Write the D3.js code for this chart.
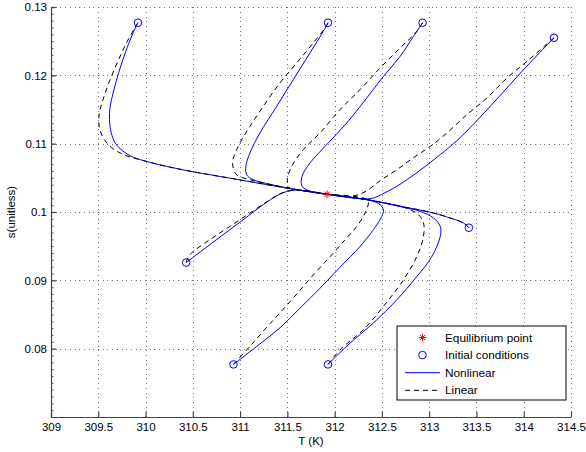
<!DOCTYPE html>
<html>
<head>
<meta charset="utf-8">
<script src="https://cdn.jsdelivr.net/npm/d3@7"></script>
<style>
  body { margin: 0; background: #fff; }
  svg text { font-family: "Liberation Sans", Arial, Helvetica, sans-serif; fill: #000; }
  .grid line { stroke: #777; stroke-width: 1; stroke-dasharray: 1 3.7; shape-rendering: crispEdges; }
  .grid path { display: none; }
  .axis path, .axis line { stroke: #444; stroke-width: 1.2; }
  .minor line { stroke: #555; stroke-width: 1; }
  .minor path { display: none; }
</style>
</head>
<body>
<svg id="chart" width="586" height="452"></svg>
<script>
// values (T in K, s unitless)
const xTicks = [309, 309.5, 310, 310.5, 311, 311.5, 312, 312.5, 313, 313.5, 314, 314.5];
const yTicks = [0.08, 0.09, 0.1, 0.11, 0.12, 0.13];

const equilibrium = [311.92, 0.1026];
const initT = [309.92, 311.93, 312.93, 314.32, 313.42, 310.43, 310.93, 311.93];
const initS = [0.1277, 0.1277, 0.1277, 0.1255, 0.0977, 0.0926, 0.0777, 0.0777];

// intermediate points of each trajectory, start and end (equilibrium) are added below
const nonlinA = [[309.868, 0.12621], [309.790, 0.12347], [309.716, 0.12040], [309.658, 0.11747],
  [309.624, 0.11527], [309.619, 0.11351], [309.637, 0.11161], [309.684, 0.11000], [309.762, 0.10890],
  [309.868, 0.10802], [310.010, 0.10741], [310.221, 0.10668], [310.574, 0.10571], [310.924, 0.10488],
  [311.284, 0.10400], [311.633, 0.10319]];
const linearA = [[309.886, 0.12694], [309.798, 0.12474], [309.706, 0.12201], [309.621, 0.11922],
  [309.550, 0.11644], [309.510, 0.11439], [309.510, 0.11249], [309.557, 0.11073], [309.642, 0.10941],
  [309.769, 0.10839], [309.939, 0.10766], [310.221, 0.10668], [310.574, 0.10571], [310.924, 0.10488],
  [311.284, 0.10400], [311.633, 0.10319]];

const nonlinB = [[311.880, 0.12644], [311.739, 0.12328], [311.563, 0.11937], [311.387, 0.11546],
  [311.210, 0.11157], [311.104, 0.10864], [311.061, 0.10668], [311.069, 0.10546], [311.139, 0.10473],
  [311.281, 0.10417], [311.633, 0.10319]];
const linearB = [[311.898, 0.12694], [311.774, 0.12474], [311.599, 0.12182], [311.422, 0.11889],
  [311.245, 0.11546], [311.104, 0.11253], [310.980, 0.10960], [310.921, 0.10717], [310.963, 0.10546],
  [311.104, 0.10473], [311.281, 0.10414], [311.633, 0.10319]];

const nonlinC = [[312.834, 0.12571], [312.693, 0.12278], [312.516, 0.11985], [312.340, 0.11669],
  [312.128, 0.11303], [311.930, 0.11007], [311.739, 0.10717], [311.655, 0.10521], [311.655, 0.10378],
  [311.739, 0.10305]];
const linearC = [[312.870, 0.12644], [312.693, 0.12401], [312.481, 0.12108], [312.269, 0.11791],
  [312.057, 0.11498], [311.845, 0.11157], [311.668, 0.10912], [311.546, 0.10668], [311.499, 0.10473],
  [311.528, 0.10348], [311.633, 0.10319]];

const nonlinD = [[314.144, 0.12296], [313.964, 0.12032], [313.720, 0.11659], [313.505, 0.11337],
  [313.293, 0.11044], [313.117, 0.10839], [312.905, 0.10612], [312.693, 0.10407], [312.534, 0.10283],
  [312.375, 0.10195]];
const linearD = [[314.035, 0.12205], [313.823, 0.11962], [313.611, 0.11669], [313.399, 0.11425],
  [313.188, 0.11157], [313.011, 0.10960], [312.834, 0.10795], [312.658, 0.10619], [312.481, 0.10458],
  [312.322, 0.10297], [312.163, 0.10227]];

const nonlinH = [[313.363, 0.09839], [313.222, 0.09912], [313.046, 0.09985], [312.692, 0.10085],
  [312.343, 0.10180]];
const linearH = [[313.363, 0.09839], [313.222, 0.09912], [313.046, 0.09985], [312.692, 0.10085],
  [312.343, 0.10180]];

const nonlinE = [[310.609, 0.09448], [310.821, 0.09668], [311.033, 0.09887], [311.245, 0.10107],
  [311.422, 0.10261], [311.570, 0.10319]];
const linearE = [[310.468, 0.09375], [310.680, 0.09594], [310.892, 0.09789], [311.104, 0.09985],
  [311.316, 0.10180], [311.457, 0.10287], [311.599, 0.10322]];

const nonlinF = [[311.175, 0.08032], [311.422, 0.08306], [311.633, 0.08592], [311.845, 0.08884],
  [312.057, 0.09192], [312.269, 0.09496], [312.410, 0.09741], [312.499, 0.09936], [312.516, 0.10034],
  [312.481, 0.10107], [312.410, 0.10155], [312.340, 0.10180]];
const linearF = [[311.104, 0.08035], [311.316, 0.08365], [311.528, 0.08687], [311.739, 0.09023],
  [311.951, 0.09346], [312.110, 0.09594], [312.234, 0.09789], [312.322, 0.09985], [312.357, 0.10132],
  [312.340, 0.10187]];

const nonlinG = [[312.163, 0.08082], [312.410, 0.08375], [312.658, 0.08716], [312.870, 0.09057],
  [313.029, 0.09350], [313.117, 0.09643], [313.117, 0.09789], [313.046, 0.09912], [312.905, 0.10009],
  [312.746, 0.10063], [312.343, 0.10180]];
const linearG = [[312.057, 0.07984], [312.304, 0.08277], [312.516, 0.08618], [312.728, 0.09009],
  [312.870, 0.09350], [312.940, 0.09643], [312.940, 0.09839], [312.887, 0.09960], [312.799, 0.10034],
  [312.692, 0.10085], [312.343, 0.10180]];

// same order as initT / initS
const nonlinear = [nonlinA, nonlinB, nonlinC, nonlinD, nonlinH, nonlinE, nonlinF, nonlinG];
const linear = [linearA, linearB, linearC, linearD, linearH, linearE, linearF, linearG];

const legendLabels = ['Equilibrium point', 'Initial conditions', 'Nonlinear', 'Linear'];


const margin = {top: 7, right: 15, bottom: 35, left: 51};
const width = 586 - margin.left - margin.right;
const height = 452 - margin.top - margin.bottom;

const svg = d3.select('#chart');
svg.append('rect').attr('width', 586).attr('height', 452).attr('fill', '#fff');

const chart = svg.append('g')
                 .attr('transform', `translate(${margin.left}, ${margin.top})`);

const xScale = d3.scaleLinear().domain([309, 314.5]).range([0, width]);
const yScale = d3.scaleLinear().domain([0.07, 0.13]).range([height, 0]);

// dotted grid
chart.append('g')
     .attr('class', 'grid')
     .attr('transform', `translate(0, ${height})`)
     .call(d3.axisBottom(xScale)
             .tickValues(xTicks.slice(1))
             .tickSize(-height)
             .tickFormat(''));

chart.append('g')
     .attr('class', 'grid')
     .call(d3.axisLeft(yScale)
             .tickValues(yTicks)
             .tickSize(-width)
             .tickFormat(''));

// trajectories
const line = d3.line()
               .x(d => xScale(d[0]))
               .y(d => yScale(d[1]))
               .curve(d3.curveCatmullRom.alpha(0.5));

const full = (pts, i) => [[initT[i], initS[i]], ...pts, equilibrium];

nonlinear.forEach((pts, i) => {
    chart.append('path')
         .attr('d', line(full(pts, i)))
         .attr('fill', 'none')
         .attr('stroke', '#0000ff')
         .attr('stroke-width', 1);
    chart.append('path')
         .attr('d', line(full(linear[i], i)))
         .attr('fill', 'none')
         .attr('stroke', '#000')
         .attr('stroke-width', 1)
         .attr('stroke-dasharray', '5,4');
});

// initial conditions
chart.selectAll('.ic')
     .data(initT)
     .enter()
     .append('circle')
     .attr('class', 'ic')
     .attr('cx', d => xScale(d))
     .attr('cy', (d, i) => yScale(initS[i]))
     .attr('r', 3.8)
     .attr('fill', 'none')
     .attr('stroke', '#0000ff')
     .attr('stroke-width', 1);

// matlab style '*' marker
const star = {
    draw(ctx, size) {
        const r = Math.sqrt(size) / 2;
        const d = r * 0.7071;
        ctx.moveTo(0, -r); ctx.lineTo(0, r);
        ctx.moveTo(-r, 0); ctx.lineTo(r, 0);
        ctx.moveTo(-d, -d); ctx.lineTo(d, d);
        ctx.moveTo(-d, d); ctx.lineTo(d, -d);
    }
};

chart.append('path')
     .attr('d', d3.symbol(star, 56)())
     .attr('transform', `translate(${xScale(equilibrium[0])}, ${yScale(equilibrium[1])})`)
     .attr('fill', 'none')
     .attr('stroke', '#ff0000')
     .attr('stroke-width', 1);

// axes
chart.append('g')
     .attr('class', 'minor')
     .call(d3.axisLeft(yScale)
             .ticks(60)
             .tickSize(-2.5)
             .tickFormat(''));

chart.append('g')
     .attr('class', 'axis')
     .call(d3.axisLeft(yScale)
             .tickValues(yTicks)
             .tickSize(-5)
             .tickSizeOuter(0)
             .tickPadding(4)
             .tickFormat(d3.format('')))
     .call(g => g.selectAll('text').style('font-size', '11.5px'));

chart.append('g')
     .attr('class', 'axis')
     .attr('transform', `translate(0, ${height})`)
     .call(d3.axisBottom(xScale)
             .tickValues(xTicks)
             .tickSize(-5)
             .tickSizeOuter(0)
             .tickPadding(6)
             .tickFormat(d3.format('')))
     .call(g => g.selectAll('text').style('font-size', '11.5px'));

svg.append('text')
   .attr('x', margin.left + width / 2)
   .attr('y', 445)
   .attr('text-anchor', 'middle')
   .style('font-size', '11.5px')
   .text('T (K)');

svg.append('text')
   .attr('transform', `translate(15, ${margin.top + height / 2}) rotate(-90)`)
   .attr('text-anchor', 'middle')
   .style('font-size', '11.5px')
   .text('s(unitless)');

// legend
const legend = svg.append('g').attr('transform', 'translate(397, 326)');

legend.append('rect')
      .attr('width', 169)
      .attr('height', 74)
      .attr('fill', '#fff')
      .attr('stroke', '#000')
      .attr('stroke-width', 1);

const rowY = i => 11.5 + i * 17.6;

legend.append('path')
      .attr('d', d3.symbol(star, 56)())
      .attr('transform', `translate(25.5, ${rowY(0)})`)
      .attr('fill', 'none')
      .attr('stroke', '#ff0000');

legend.append('circle')
      .attr('cx', 25.5)
      .attr('cy', rowY(1))
      .attr('r', 3.8)
      .attr('fill', 'none')
      .attr('stroke', '#0000ff');

legend.append('line')
      .attr('x1', 8).attr('x2', 43)
      .attr('y1', rowY(2)).attr('y2', rowY(2))
      .attr('stroke', '#0000ff');

legend.append('line')
      .attr('x1', 8).attr('x2', 43)
      .attr('y1', rowY(3)).attr('y2', rowY(3))
      .attr('stroke', '#000')
      .attr('stroke-dasharray', '5,4');

legend.selectAll('.label')
      .data(legendLabels)
      .enter()
      .append('text')
      .attr('class', 'label')
      .attr('x', 48)
      .attr('y', (d, i) => rowY(i))
      .attr('dy', '0.35em')
      .style('font-size', '11.8px')
      .text(d => d);
</script>
</body>
</html>
